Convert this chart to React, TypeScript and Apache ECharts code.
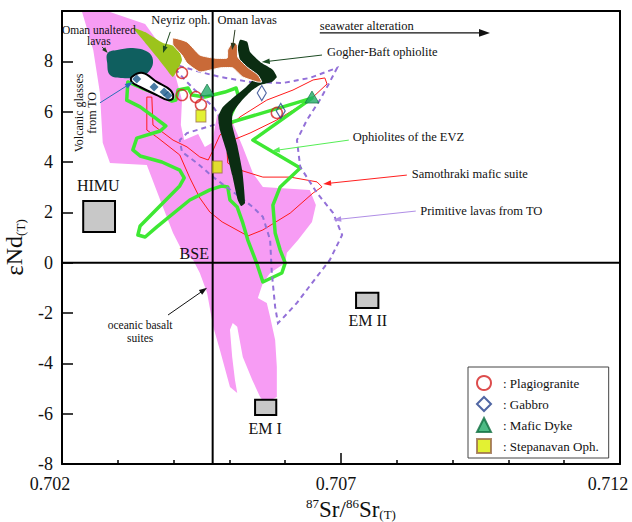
import React, { useEffect, useRef } from 'react';
import * as echarts from 'echarts';

const FONT = '"Liberation Serif", "Times New Roman", serif';

// ---- axes ----
const srMin = 0.702;
const srMax = 0.712;
const ndMin = -8;
const ndMax = 10;

// ---- Bulk Silicate Earth reference ----
const bseSr = 0.7047;
const bseNd = 0;

// ---- samples ----
const plagiogranite = [[0.70415, 7.54], [0.70415, 6.66], [0.7044, 6.58], [0.70449, 6.27], [0.70585, 5.95]];
const gabbro = [[0.70558, 6.74], [0.70592, 6.03]];
const maficDyke = [[0.7046, 6.86], [0.70648, 6.58]];
const stepanavan = [[0.70449, 5.83], [0.70478, 3.8]];
const glassDots = [[0.70334, 7.3], [0.70365, 6.98], [0.70383, 6.78], [0.7039, 6.64]];

// ---- fields ----
const oceanicBasalt = [
  [0.70236, 9.96], [0.70286, 9.96], [0.70349, 9.48], [0.70376, 8.65], [0.70403, 7.46], [0.70415, 6.46],
  [0.70413, 5.47], [0.70419, 4.87], [0.70444, 5.11], [0.70456, 4.6], [0.70469, 4.76], [0.70478, 5.87],
  [0.70492, 6.15], [0.70506, 5.55], [0.70524, 4.6], [0.70542, 3.56], [0.7056, 3.01], [0.70644, 2.89],
  [0.70655, 2.29], [0.70648, 1.62], [0.70623, 0.9], [0.70603, 0.39], [0.706, -0.01], [0.70573, -0.41],
  [0.7056, -0.81], [0.70551, -1.4], [0.70567, -1.6], [0.70573, -2.16], [0.70582, -3.07], [0.70585, -4.14],
  [0.70585, -5.34], [0.70564, -5.58], [0.70555, -5.34], [0.70541, -4.66], [0.70524, -3.75], [0.70514, -2.55],
  [0.70506, -2.4], [0.70501, -2.67], [0.70505, -3.75], [0.7051, -4.66], [0.70514, -5.18], [0.70501, -4.94],
  [0.70483, -3.47], [0.70471, -2.55], [0.7046, -1.2], [0.70447, -0.41], [0.70435, 0.11], [0.70417, 0.39],
  [0.70399, 1.18], [0.70376, 2.49], [0.70352, 3.88], [0.70286, 3.96], [0.70273, 4.76], [0.70268, 6.74],
  [0.70256, 8.45],
];
const samothraki = [
  [0.70352, 6.58], [0.70361, 6.58], [0.70363, 5.47], [0.70399, 4.87], [0.70424, 4.6], [0.70447, 4.2],
  [0.70462, 4.08], [0.70471, 4.48], [0.70483, 5.07], [0.70519, 5.79], [0.70567, 6.46], [0.70614, 6.86],
  [0.7065, 7.26], [0.70671, 7.34], [0.70675, 7.1], [0.70644, 6.46], [0.70585, 5.67], [0.70537, 5.15],
  [0.70506, 4.87], [0.70496, 4.36], [0.70497, 3.96], [0.70519, 3.68], [0.7056, 3.4], [0.70609, 3.4],
  [0.70657, 3.21], [0.70666, 3.01], [0.7065, 2.77], [0.70609, 1.97], [0.7056, 1.3], [0.70533, 1.06],
  [0.70487, 1.62], [0.70465, 2.01], [0.70447, 2.57], [0.70429, 3.37], [0.70411, 4.28], [0.7037, 4.99],
  [0.70352, 5.27],
];
const primitiveLavas = [
  [0.70394, 7.93], [0.70447, 7.58], [0.70483, 7.38], [0.70537, 7.18], [0.70596, 7.14], [0.70644, 7.34],
  [0.70693, 7.74], [0.70677, 7.06], [0.70662, 6.46], [0.70639, 5.67], [0.70621, 4.87], [0.70627, 3.8],
  [0.70657, 2.77], [0.70686, 1.97], [0.70702, 1.1], [0.7068, 0.11], [0.70648, -0.81], [0.70621, -1.6],
  [0.70596, -2.2], [0.70587, -2.4], [0.70582, -1.76], [0.70576, -0.41], [0.70573, 0.9], [0.7056, 1.82],
  [0.70542, 2.21], [0.70519, 2.61], [0.70471, 3.4], [0.70442, 3.96], [0.70415, 4.4], [0.70411, 4.87],
  [0.70424, 5.15], [0.7046, 5.39], [0.70489, 5.59], [0.70471, 6.19], [0.70438, 6.86], [0.70417, 7.34],
];
const ophiolitesEVZ = [
  [0.70318, 7.18], [0.70343, 6.94], [0.70376, 6.66], [0.70397, 6.42], [0.70404, 6.46], [0.70408, 6.86],
  [0.70426, 6.94], [0.70433, 6.66], [0.70456, 6.58], [0.70492, 6.78], [0.70512, 6.94], [0.70517, 6.54],
  [0.70501, 5.79], [0.70487, 5.47], [0.70648, 6.54], [0.70542, 4.87], [0.70627, 3.76], [0.70591, 3.01],
  [0.70578, 2.29], [0.70582, 1.18], [0.70591, 0.5], [0.706, -0.01], [0.70594, -0.41], [0.7056, -0.77],
  [0.7055, -0.09], [0.70533, 0.9], [0.70524, 1.58], [0.70514, 2.21], [0.70501, 2.49], [0.70497, 3.01],
  [0.70487, 3.05], [0.70465, 2.89], [0.70429, 2.49], [0.7037, 1.42], [0.70349, 1.02], [0.70336, 1.1],
  [0.7034, 1.46], [0.70411, 3.05], [0.70419, 3.37], [0.70411, 3.68], [0.70379, 4.0], [0.7034, 4.24],
  [0.70327, 4.48], [0.70334, 4.95], [0.70376, 5.23], [0.70386, 5.43], [0.70367, 5.75], [0.7034, 6.19],
  [0.70316, 6.46],
];
const omanUnaltered = [
  [0.70282, 8.33], [0.70299, 8.45], [0.70327, 8.53], [0.70354, 8.37], [0.70363, 8.05], [0.70358, 7.66],
  [0.7034, 7.38], [0.70309, 7.34], [0.70286, 7.46], [0.70281, 7.93],
];
const volcanicGlasses = [
  [0.70325, 7.38], [0.70345, 7.54], [0.7037, 7.18], [0.70394, 6.86], [0.70399, 6.54], [0.7039, 6.46],
  [0.7037, 6.66], [0.7034, 6.98], [0.70325, 7.18],
];
const neyriz = [
  [0.70327, 9.33], [0.70352, 9.13], [0.70381, 8.73], [0.70406, 8.57], [0.70415, 8.05], [0.70399, 7.38],
  [0.70388, 7.66], [0.7037, 8.17], [0.70345, 8.85],
];
const omanLavas = [
  [0.70399, 8.93], [0.70424, 8.77], [0.70447, 8.25], [0.70471, 8.13], [0.70496, 8.13], [0.70497, 8.45],
  [0.70506, 8.77], [0.70514, 8.65], [0.70515, 8.17], [0.70532, 7.77], [0.70551, 7.46], [0.70558, 7.18],
  [0.7055, 7.18], [0.70524, 7.38], [0.70506, 7.74], [0.70483, 7.74], [0.70447, 7.58], [0.70424, 7.93],
  [0.70415, 8.25], [0.70399, 8.65],
];
const gogherBaft = [
  [0.70519, 8.85], [0.70532, 8.77], [0.70537, 8.37], [0.70558, 7.93], [0.70578, 7.66], [0.70585, 7.38],
  [0.70576, 7.18], [0.70555, 7.06], [0.70541, 6.86], [0.70523, 6.46], [0.70506, 5.95], [0.70505, 5.47],
  [0.70514, 4.68], [0.70523, 3.68], [0.70528, 2.37], [0.70521, 2.25], [0.70515, 2.49], [0.70505, 3.48],
  [0.70494, 4.48], [0.70483, 5.27], [0.7048, 5.79], [0.70487, 6.15], [0.70506, 6.54], [0.70528, 6.94],
  [0.70541, 7.26], [0.70528, 7.66], [0.70519, 8.05], [0.70515, 8.53],
];

// ---- mantle end-members [srLeft, ndLow, srRight, ndHigh] ----
const endMemberBoxes = [
  [0.70238, 1.22, 0.70295, 2.45],
  [0.70546, -6.05, 0.70584, -5.45],
  [0.70727, -1.8, 0.70767, -1.2],
];

// ---- annotations ----
const labelTexts = [
  'Oman unaltered\nlavas', 'Neyriz oph.', 'Oman lavas', 'seawater alteration', 'Gogher-Baft ophiolite',
  'Ophiolites of the EVZ', 'Samothraki mafic suite', 'Primitive lavas from TO', 'Volcanic glasses\nfrom TO',
  'HIMU', 'BSE', 'oceanic basalt\nsuites', 'EM I', 'EM II',
];
const labelAt = [
  [0.70266, 9.03], [0.70413, 9.64], [0.70532, 9.64], [0.70662, 9.4], [0.70675, 8.37],
  [0.70721, 4.99], [0.70827, 3.52], [0.70842, 2.05], [0.70243, 5.95],
  [0.70265, 3.05], [0.70437, 0.35], [0.7034, -2.72], [0.70564, -6.57], [0.70748, -2.28],
];
const labelStyles = [
  { size: 11.5, align: 'center', lh: 11 }, { size: 12.5, align: 'center' }, { size: 12.5, align: 'center' },
  { size: 12.5, align: 'left' }, { size: 12.5, align: 'left' }, { size: 12.5, align: 'left' },
  { size: 12.5, align: 'left' }, { size: 12.5, align: 'left' }, { size: 12, align: 'center', lh: 13, rotate: Math.PI / 2 },
  { size: 16, align: 'center' }, { size: 16, align: 'center' }, { size: 11.5, align: 'center', lh: 13 },
  { size: 16, align: 'center' }, { size: 16, align: 'center' },
];

// arrows [srFrom, ndFrom, srTo, ndTo]
const arrowData = [
  [0.70272, 8.57, 0.70282, 8.33],
  [0.70394, 9.17, 0.70381, 8.33],
  [0.7051, 9.25, 0.70505, 8.45],
  [0.70662, 9.13, 0.70967, 9.13],
  [0.70666, 8.25, 0.70558, 7.97],
  [0.70714, 4.87, 0.70576, 4.44],
  [0.70818, 3.48, 0.70668, 3.13],
  [0.70834, 2.05, 0.70686, 1.7],
  [0.70268, 6.35, 0.70327, 7.18],
  [0.7039, -2.08, 0.7046, -1.0],
];
const arrowStyles = [
  { color: '#1d3f1d', width: 1, head: 6 },
  { color: '#1d4a1d', width: 1, head: 7 },
  { color: '#2a3a20', width: 1, head: 7 },
  { color: '#111111', width: 1.2, head: 11 },
  { color: '#1b4a22', width: 1, head: 8 },
  { color: '#55ee55', width: 1, head: 8 },
  { color: '#ff2020', width: 1, head: 8 },
  { color: '#b08ee6', width: 1, head: 8 },
  { color: '#2a6fb8', width: 1, head: 8 },
  { color: '#111111', width: 1, head: 8 },
];

function fieldSeries(points: number[][], style: any, z: number, smooth = 0) {
  return {
    type: 'custom',
    silent: true,
    z,
    data: [points[0]],
    renderItem: (_p: any, api: any) => ({
      type: 'polygon',
      shape: { points: points.map((pt) => api.coord(pt)), smooth },
      style,
    }),
  };
}

function lineSeries(data: number[][], z: number) {
  return {
    type: 'line',
    data,
    symbol: 'none',
    silent: true,
    z,
    lineStyle: { color: '#000', width: 2 },
  };
}

export default function App() {
  const ref = useRef<HTMLDivElement>(null);

  useEffect(() => {
    if (!ref.current) return;
    const chart = echarts.init(ref.current, undefined, { renderer: 'svg' });

    const xLabelFmt = (v: number) => {
      const s = v.toFixed(3);
      if (s === '0.707') return '{b|' + s + '}';
      return '{a|' + s + '}';
    };
    const tickFont = { fontFamily: FONT, fontSize: 18, color: '#111' };

    const option: any = {
      animation: false,
      backgroundColor: '#fff',
      grid: { left: 62, top: 11, right: 12, bottom: 58, show: false, outerBoundsMode: 'none', containLabel: false },
      legend: {
        orient: 'vertical',
        left: 468,
        top: 367,
        selectedMode: false,
        backgroundColor: '#fff',
        borderColor: '#444',
        borderWidth: 1,
        borderRadius: 0,
        padding: [8, 10, 4, 8],
        itemWidth: 14,
        itemHeight: 14,
        itemGap: 5,
        textStyle: { fontFamily: FONT, fontSize: 13, lineHeight: 14, color: '#111', padding: [0, 0, 0, 7] },
        data: [': Plagiogranite', ': Gabbro', ': Mafic Dyke', ': Stepanavan Oph.'],
      },
      xAxis: [
        {
          type: 'value',
          min: srMin,
          max: srMax,
          interval: 0.005,
          position: 'bottom',
          z: 50,
          axisLine: { show: true, onZero: false, lineStyle: { color: '#000', width: 2 } },
          splitLine: { show: false },
          axisTick: { show: true, inside: true, length: 11, lineStyle: { color: '#000', width: 1.5 } },
          minorTick: { show: true, splitNumber: 5, length: 4, lineStyle: { color: '#000', width: 1.5 } },
          axisLabel: {
            margin: 11,
            formatter: xLabelFmt,
            ...tickFont,
            lineHeight: 17,
            rich: {
              a: { ...tickFont, lineHeight: 17, padding: [0, 24, 0, 0] },
              b: { ...tickFont, lineHeight: 17, padding: [0, 10, 0, 0] },
            },
          },
          name: '{sup|87}{b|Sr/}{sup|86}{b|Sr}{sub|(T)}',
          nameLocation: 'middle',
          nameGap: 16,
          nameTextStyle: {
            padding: [0, 0, 0, 20],
            rich: {
              b: { fontFamily: FONT, fontSize: 23, color: '#111', lineHeight: 24 },
              sup: { fontFamily: FONT, fontSize: 13, color: '#111', verticalAlign: 'top', lineHeight: 24 },
              sub: { fontFamily: FONT, fontSize: 13, color: '#111', verticalAlign: 'bottom', lineHeight: 20 },
            },
          },
        },
        {
          type: 'value',
          min: srMin,
          max: srMax,
          position: 'top',
          z: 50,
          axisLine: { show: true, onZero: false, lineStyle: { color: '#000', width: 2 } },
          axisTick: { show: false },
          axisLabel: { show: false },
          splitLine: { show: false },
        },
      ],
      yAxis: [
        {
          type: 'value',
          min: ndMin,
          max: ndMax,
          interval: 2,
          position: 'left',
          z: 50,
          axisLine: { show: true, onZero: false, lineStyle: { color: '#000', width: 2 } },
          splitLine: { show: false },
          axisTick: { show: true, inside: true, length: 11, lineStyle: { color: '#000', width: 1.5 } },
          axisLabel: {
            margin: 9,
            ...tickFont,
            lineHeight: 14,
            formatter: (v: number) => (v === ndMax ? '' : String(v)),
          },
          name: '{e|ε}{b|Nd}{sub|(T)}',
          nameLocation: 'middle',
          nameRotate: 90,
          nameGap: 27,
          nameTextStyle: {
            padding: [0, 20, 0, 0],
            rich: {
              e: { fontFamily: FONT, fontSize: 25, color: '#111', lineHeight: 26 },
              b: { fontFamily: FONT, fontSize: 24, color: '#111', lineHeight: 26 },
              sub: { fontFamily: FONT, fontSize: 13, color: '#111', verticalAlign: 'bottom', lineHeight: 22 },
            },
          },
        },
        {
          type: 'value',
          min: ndMin,
          max: ndMax,
          position: 'right',
          z: 50,
          axisLine: { show: true, onZero: false, lineStyle: { color: '#000', width: 2 } },
          axisTick: { show: false },
          axisLabel: { show: false },
          splitLine: { show: false },
        },
      ],
      series: [
        fieldSeries(oceanicBasalt, { fill: '#f79cf4', stroke: 'none' }, 1),
        fieldSeries(samothraki, { fill: 'none', stroke: '#ff1a1a', lineWidth: 1 }, 2),
        fieldSeries(ophiolitesEVZ, { fill: 'none', stroke: '#3ee833', lineWidth: 3.5, lineJoin: 'round' }, 3),
        fieldSeries(primitiveLavas, { fill: 'none', stroke: '#9370d8', lineWidth: 2, lineDash: [5, 4] }, 4),
        fieldSeries(omanUnaltered, { fill: '#0f5f5f', stroke: 'none' }, 5, 0.4),
        fieldSeries(volcanicGlasses, { fill: '#ffffff', stroke: '#000', lineWidth: 2 }, 6, 0.4),
        {
          type: 'scatter',
          data: glassDots,
          symbol: 'diamond',
          symbolSize: 9,
          silent: true,
          z: 7,
          itemStyle: { color: '#1c5a8c' },
        },
        fieldSeries(neyriz, { fill: '#9cc41c', stroke: 'none' }, 8, 0.15),
        fieldSeries(gogherBaft, { fill: '#0b2d12', stroke: 'none' }, 9, 0.15),
        fieldSeries(omanLavas, { fill: '#c96a38', stroke: '#ffffff', lineWidth: 1 }, 10, 0.15),
        lineSeries([[bseSr, ndMin], [bseSr, ndMax]], 11),
        lineSeries([[srMin, bseNd], [srMax, bseNd]], 11),
        {
          type: 'custom',
          silent: true,
          z: 12,
          data: endMemberBoxes,
          renderItem: (_p: any, api: any) => {
            const a = api.coord([api.value(0), api.value(3)]);
            const b = api.coord([api.value(2), api.value(1)]);
            return {
              type: 'rect',
              shape: { x: a[0], y: a[1], width: b[0] - a[0], height: b[1] - a[1] },
              style: { fill: '#c8c8c8', stroke: '#000', lineWidth: 2 },
            };
          },
        },
        {
          type: 'custom',
          silent: true,
          z: 13,
          data: arrowData,
          renderItem: (params: any, api: any) => {
            const s = arrowStyles[params.dataIndex];
            const p1 = api.coord([api.value(0), api.value(1)]);
            const p2 = api.coord([api.value(2), api.value(3)]);
            const dx = p2[0] - p1[0];
            const dy = p2[1] - p1[1];
            const len = Math.hypot(dx, dy) || 1;
            const ux = dx / len;
            const uy = dy / len;
            const L = s.head;
            const W = s.head * 0.7;
            const bx = p2[0] - ux * L;
            const by = p2[1] - uy * L;
            return {
              type: 'group',
              children: [
                {
                  type: 'line',
                  shape: { x1: p1[0], y1: p1[1], x2: bx + ux, y2: by + uy },
                  style: { stroke: s.color, lineWidth: s.width },
                },
                {
                  type: 'polygon',
                  shape: {
                    points: [
                      [p2[0], p2[1]],
                      [bx - (uy * W) / 2, by + (ux * W) / 2],
                      [bx + (uy * W) / 2, by - (ux * W) / 2],
                    ],
                  },
                  style: { fill: s.color },
                },
              ],
            };
          },
        },
        {
          type: 'custom',
          silent: true,
          z: 14,
          data: labelAt,
          renderItem: (params: any, api: any) => {
            const i = params.dataIndex;
            const s: any = labelStyles[i];
            const p = api.coord([api.value(0), api.value(1)]);
            return {
              type: 'text',
              x: p[0],
              y: p[1],
              rotation: s.rotate || 0,
              style: {
                text: labelTexts[i],
                fill: '#111',
                fontFamily: FONT,
                fontSize: s.size,
                lineHeight: s.lh,
                align: s.align,
                verticalAlign: 'middle',
              },
            };
          },
        },
        {
          name: ': Plagiogranite',
          type: 'scatter',
          data: plagiogranite,
          symbol: 'circle',
          symbolSize: 11,
          z: 15,
          itemStyle: { color: 'rgba(255,255,255,0)', borderColor: '#d42020', borderWidth: 1.5 },
        },
        {
          name: ': Gabbro',
          type: 'scatter',
          data: gabbro,
          symbol: 'diamond',
          symbolSize: [9, 15],
          z: 15,
          itemStyle: { color: 'rgba(255,255,255,0)', borderColor: '#24408c', borderWidth: 1.2 },
        },
        {
          name: ': Mafic Dyke',
          type: 'scatter',
          data: maficDyke,
          symbol: 'triangle',
          symbolSize: [14, 12],
          z: 15,
          itemStyle: { color: '#22aa66', borderColor: '#0f6e40', borderWidth: 0.8 },
        },
        {
          name: ': Stepanavan Oph.',
          type: 'scatter',
          data: stepanavan,
          symbol: 'rect',
          symbolSize: [10, 12],
          z: 15,
          itemStyle: { color: '#dcee00', borderColor: '#9a6a4a', borderWidth: 1 },
        },
      ],
    };

    chart.setOption(option);
    return () => chart.dispose();
  }, []);

  return (
    <div
      ref={ref}
      style={{ position: 'fixed', left: 0, top: 0, width: 632, height: 522, background: '#fff' }}
    />
  );
}
